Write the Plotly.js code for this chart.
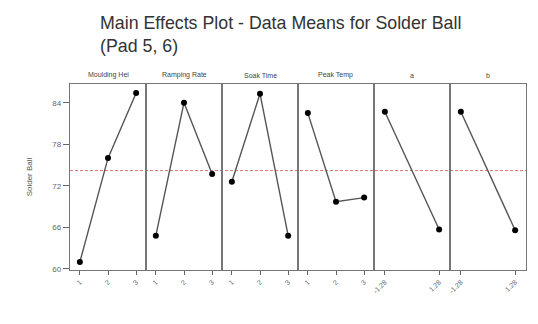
<!DOCTYPE html>
<html>
<head>
<meta charset="utf-8">
<script src="https://cdn.plot.ly/plotly-3.0.1.min.js"></script>
<style>html,body{margin:0;padding:0;background:#fff;}#chart{width:538px;height:324px;}</style>
</head>
<body>
<div id="chart"></div>
<script>
// ---- data ----
var factors = ["Moulding Hei", "Ramping Rate", "Soak Time", "Peak Temp", "a", "b"];
var levels3 = ["1", "2", "3"];
var levelsA = ["-1.28", "1.28"];
var levelsB = ["-1.28", "1.28"];
var mouldingHei = [61.0, 76.0, 85.4];
var rampingRate = [64.8, 84.0, 73.7];
var soakTime = [72.6, 85.3, 64.8];
var peakTemp = [82.5, 69.7, 70.3];
var aMeans = [82.7, 65.7];
var bMeans = [82.7, 65.6];
var grandMean = 74.2;
var yTicks = [60, 66, 72, 78, 84];

var series = [
  {labels: levels3, y: mouldingHei},
  {labels: levels3, y: rampingRate},
  {labels: levels3, y: soakTime},
  {labels: levels3, y: peakTemp},
  {labels: levelsA, y: aMeans},
  {labels: levelsB, y: bMeans}
];

var W = 538, H = 324;
var mL = 70, mR = 12, mT = 84, mB = 54;
var n = factors.length;
var yRange = [59.85, 86.7];
var font = "Liberation Sans, Arial, sans-serif";

var traces = [];
var layout = {
  width: W, height: H,
  margin: {l: mL, r: mR, t: mT, b: mB, pad: 0},
  paper_bgcolor: "#ffffff",
  plot_bgcolor: "#ffffff",
  showlegend: false,
  font: {family: font, color: "#444"},
  title: {
    text: "Main Effects Plot - Data Means for Solder Ball<br>(Pad 5, 6)",
    x: 100 / W, xanchor: "left", xref: "container",
    y: 1 - 29 / H, yanchor: "middle", yref: "container",
    font: {family: font, size: 17.8, color: "#333"}
  },
  annotations: [],
  shapes: []
};

for (var i = 0; i < n; i++) {
  var s = series[i];
  var xs = s.labels.map(function (_, k) { return k + 1; });
  var xa = i === 0 ? "x" : "x" + (i + 1);
  var ya = i === 0 ? "y" : "y" + (i + 1);
  traces.push({
    type: "scatter", mode: "lines+markers",
    x: xs, y: s.y, xaxis: xa, yaxis: ya,
    line: {color: "#555", width: 1.4},
    marker: {color: "#000", size: 6},
    hoverinfo: "skip"
  });
  var d0 = i / n, d1 = (i + 1) / n;
  var m = s.labels.length;
  var pad = (m === 3) ? 0.35 : 0.2;
  var xKey = i === 0 ? "xaxis" : "xaxis" + (i + 1);
  var yKey = i === 0 ? "yaxis" : "yaxis" + (i + 1);
  layout[xKey] = {
    domain: [d0, d1], anchor: ya,
    range: [1 - pad, m + pad],
    tickmode: "array", tickvals: xs, ticktext: s.labels,
    ticks: "outside", ticklen: 4, tickcolor: "#666", tickwidth: 1,
    tickangle: -45,
    tickfont: {family: font, size: 7, color: "#666"},
    showline: true, linecolor: "#777", linewidth: 1.3, mirror: true,
    showgrid: false, zeroline: false, fixedrange: true
  };
  layout[yKey] = {
    anchor: xa, range: yRange,
    showline: true, linecolor: "#777", linewidth: 1.3, mirror: true,
    showgrid: false, zeroline: false, fixedrange: true,
    tickmode: "array", tickvals: yTicks,
    ticks: i === 0 ? "outside" : "",
    ticklen: 6, tickcolor: "#666",
    showticklabels: i === 0,
    tickfont: {family: font, size: 8, color: "#666"}
  };
  if (i > 0) layout[yKey].matches = "y";
  layout.annotations.push({
    text: factors[i], xref: "paper", yref: "paper",
    x: (d0 + d1) / 2, y: 1, yshift: 3, xanchor: "center", yanchor: "bottom",
    showarrow: false, font: {family: font, size: 7, color: "#444"}
  });
}
layout.yaxis.title = {text: "Solder Ball", font: {family: font, size: 8, color: "#555"}, standoff: 18};

layout.shapes.push({
  type: "line", xref: "paper", yref: "y",
  x0: 0, x1: 1, y0: grandMean, y1: grandMean,
  line: {color: "#e07070", width: 1, dash: "3px,2px"}, layer: "below"
});

Plotly.newPlot("chart", traces, layout, {staticPlot: true, displayModeBar: false});
</script>
</body>
</html>
